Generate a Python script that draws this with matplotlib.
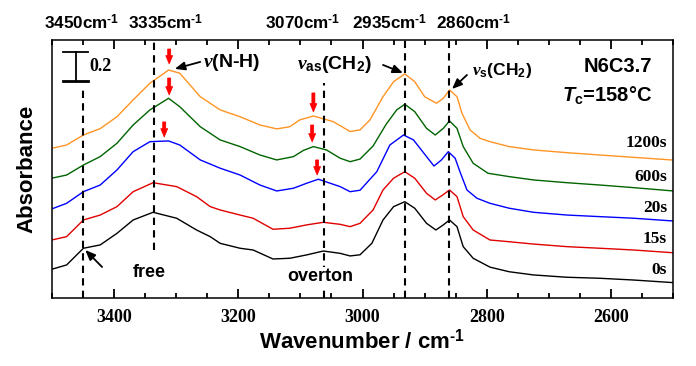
"""Time-resolved FTIR spectra of N6C3.7 during isothermal crystallization (Tc = 158 C)."""
import matplotlib
matplotlib.use("Agg")
import matplotlib.pyplot as plt
from matplotlib.ticker import MultipleLocator

plt.rcParams["font.family"] = ["Liberation Sans", "DejaVu Sans"]
plt.rcParams["font.weight"] = "bold"
plt.rcParams["mathtext.fontset"] = "custom"
plt.rcParams["mathtext.rm"] = "Liberation Sans:bold"
plt.rcParams["mathtext.it"] = "Liberation Serif:italic"
plt.rcParams["mathtext.sf"] = "Liberation Sans:bold:italic"

# spectra (already vertically offset as plotted)
wn_0s = [3500, 3476, 3449, 3422, 3395, 3369, 3337, 3299, 3267, 3245, 3229, 3197, 3176, 3144, 3117,
         3090, 3063, 3036, 3020, 3004, 2985, 2967, 2950, 2932, 2916, 2897, 2882, 2870, 2860, 2848,
         2838, 2822, 2795, 2764, 2725, 2671, 2618, 2564, 2500]
abs_0s = [0.200, 0.230, 0.345, 0.368, 0.448, 0.540, 0.593, 0.552, 0.471, 0.425, 0.379, 0.345, 0.333,
          0.271, 0.276, 0.299, 0.326, 0.310, 0.292, 0.300, 0.379, 0.540, 0.632, 0.666, 0.621, 0.517,
          0.471, 0.506, 0.540, 0.494, 0.356, 0.276, 0.215, 0.183, 0.161, 0.145, 0.138, 0.126, 0.108]

wn_15s = [3500, 3476, 3449, 3422, 3395, 3369, 3337, 3299, 3267, 3245, 3229, 3197, 3176, 3144, 3117,
          3090, 3063, 3036, 3020, 3004, 2983, 2967, 2950, 2932, 2916, 2897, 2883, 2871, 2860, 2848,
          2838, 2822, 2795, 2764, 2725, 2671, 2618, 2564, 2500]
abs_15s = [0.402, 0.425, 0.540, 0.574, 0.632, 0.735, 0.797, 0.770, 0.701, 0.632, 0.609, 0.574, 0.552,
           0.476, 0.483, 0.506, 0.524, 0.510, 0.494, 0.517, 0.609, 0.747, 0.828, 0.873, 0.828, 0.724,
           0.678, 0.712, 0.747, 0.701, 0.563, 0.471, 0.402, 0.390, 0.374, 0.356, 0.345, 0.333, 0.314]

wn_20s = [3500, 3476, 3449, 3422, 3395, 3369, 3342, 3312, 3294, 3261, 3229, 3197, 3165, 3138, 3111,
          3090, 3071, 3036, 3020, 3004, 2977, 2956, 2934, 2918, 2899, 2885, 2873, 2862, 2851, 2843,
          2832, 2816, 2795, 2764, 2725, 2671, 2618, 2564, 2500]
abs_20s = [0.616, 0.655, 0.735, 0.781, 0.885, 1.011, 1.080, 1.085, 1.057, 0.954, 0.897, 0.850, 0.781,
           0.740, 0.759, 0.793, 0.821, 0.770, 0.735, 0.745, 0.873, 1.057, 1.126, 1.092, 0.988, 0.912,
           0.954, 1.011, 0.966, 0.870, 0.747, 0.690, 0.655, 0.621, 0.593, 0.574, 0.563, 0.552, 0.533]

wn_600s = [3500, 3476, 3449, 3422, 3395, 3369, 3342, 3312, 3294, 3261, 3229, 3197, 3165, 3138, 3111,
           3095, 3079, 3058, 3036, 3020, 3004, 2983, 2962, 2945, 2932, 2916, 2897, 2883, 2870, 2860,
           2848, 2838, 2822, 2798, 2764, 2725, 2671, 2618, 2564, 2500]
abs_600s = [0.828, 0.850, 0.919, 0.977, 1.069, 1.195, 1.299, 1.379, 1.321, 1.183, 1.092, 1.046, 0.988,
            0.954, 0.977, 1.020, 1.046, 1.023, 0.966, 0.942, 0.960, 1.050, 1.200, 1.299, 1.338, 1.287,
            1.172, 1.126, 1.172, 1.223, 1.172, 1.046, 0.931, 0.862, 0.839, 0.816, 0.797, 0.781, 0.763,
            0.740]

wn_1200s = [3500, 3476, 3449, 3422, 3395, 3369, 3342, 3312, 3294, 3261, 3229, 3197, 3165, 3138, 3117,
            3101, 3079, 3047, 3020, 3004, 2988, 2967, 2950, 2932, 2916, 2900, 2881, 2870, 2860, 2848,
            2840, 2827, 2811, 2795, 2764, 2725, 2671, 2618, 2564, 2500]
abs_1200s = [1.034, 1.057, 1.126, 1.170, 1.252, 1.368, 1.483, 1.574, 1.552, 1.390, 1.299, 1.252,
             1.195, 1.168, 1.183, 1.230, 1.257, 1.218, 1.150, 1.161, 1.230, 1.390, 1.494, 1.547, 1.494,
             1.390, 1.345, 1.379, 1.437, 1.390, 1.276, 1.161, 1.103, 1.080, 1.046, 1.023, 1.004, 0.988,
             0.972, 0.953]

times = ["0s", "15s", "20s", "600s", "1200s"]
colors = ["black", "#e00000", "#0000ff", "#006400", "#ff9424"]
label_y = [0.195, 0.409, 0.623, 0.837, 1.071]

# marked band positions (cm-1)
band_labels = ["3450", "3335", "3070", "2935", "2860"]
band_label_x = [3452, 3316, 3097, 2956, 2821]
band_lines_x = [3449, 3335, 3062, 2932, 2861]
band_lines_ymin = [0.0, 0.333, 0.0, 0.0, 0.0]
band_lines_ymax = [1.436, 1.79, 1.485, 1.79, 1.79]

# red arrows on the N-H and overtone peaks: (x, top, tip)
red_arrows = [(3311, 1.719, 1.616), (3311, 1.519, 1.402), (3319, 1.216, 1.112),
              (3079, 1.416, 1.285), (3081, 1.195, 1.078), (3073, 0.954, 0.850)]

SUP = "$^{\\rm \u20101}$"  # superscript "-1" with a real hyphen

fig = plt.figure(figsize=(6.96, 3.66), dpi=100)
ax = fig.add_axes([0.0743, 0.185, 0.8931, 0.7057])

spectra = [(wn_0s, abs_0s), (wn_15s, abs_15s), (wn_20s, abs_20s), (wn_600s, abs_600s),
           (wn_1200s, abs_1200s)]
for (wn, a), c in zip(spectra, colors):
    ax.plot(wn, a, color=c, lw=1.0)

for t, y in zip(times, label_y):
    ax.text(2510, y, t, ha="right", va="center", fontsize=12.5, family="Liberation Serif",
            fontweight="bold")

for x, y0, y1 in zip(band_lines_x, band_lines_ymin, band_lines_ymax):
    ax.plot([x, x], [y0, y1], color="black", lw=1.5, ls=(0, (3.5, 2.5)), clip_on=False, zorder=3)

for lab, x in zip(band_labels, band_label_x):
    ax.text(x, 1.90, lab + "cm" + SUP, ha="center", va="center", fontsize=12.3,
            fontweight="bold", clip_on=False)

for x, top, tip in red_arrows:
    ax.annotate("", xy=(x, tip), xytext=(x, top),
                arrowprops=dict(arrowstyle="simple,head_width=0.5,head_length=0.6,tail_width=0.22",
                                color="red", lw=0.5, shrinkA=0, shrinkB=0))

# black arrows to the assigned bands
black_arrows = [((3261, 1.630), (3302, 1.582)), ((2967, 1.609), (2935, 1.554)),
                ((2832, 1.540), (2856, 1.443)), ((3419, 0.216), (3446, 0.333))]
for tail, tip in black_arrows:
    ax.annotate("", xy=tip, xytext=tail,
                arrowprops=dict(arrowstyle="-|>,head_width=0.25,head_length=0.6", color="black",
                                lw=1.3, shrinkA=0, shrinkB=0))

ax.text(3257, 1.623, r"$\nu$(N-H)", ha="left", va="center", fontsize=14, fontweight="bold")
ax.text(3105, 1.609, r"$\nu_{\rm as}$(CH$_{\rm 2}$)", ha="left", va="center", fontsize=14,
        fontweight="bold")
ax.text(2824, 1.574, r"$\nu_{\rm s}$(CH$_{\rm 2}$)", ha="left", va="center", fontsize=12.5,
        fontweight="bold")
ax.text(2534, 1.595, "N6C3.7", ha="right", va="center", fontsize=14.5, fontweight="bold")
ax.text(2534, 1.402, r"$\mathsf{T}_{\rm c}$=158°C", ha="right", va="center", fontsize=14.5,
        fontweight="bold")
ax.text(3343, 0.181, "free", ha="center", va="center", fontsize=13, fontweight="bold")
ax.text(3068, 0.147, "overton", ha="center", va="center", fontsize=13, fontweight="bold",
        bbox=dict(facecolor="white", edgecolor="none", pad=1.0), zorder=4)

# 0.2 absorbance scale bar
ax.plot([3461, 3461], [1.501, 1.701], color="black", lw=1.3)
ax.plot([3482, 3442], [1.701, 1.701], color="black", lw=1.3)
ax.plot([3482, 3442], [1.501, 1.501], color="black", lw=2.0)
ax.text(3440, 1.601, "0.2", ha="left", va="center", fontsize=13, family="Liberation Serif",
        fontweight="bold")

ax.set_xlim(3500, 2500)
ax.set_ylim(0, 1.781)
ax.xaxis.set_major_locator(MultipleLocator(200))
ax.xaxis.set_minor_locator(MultipleLocator(50))
ax.set_yticks([])
ax.tick_params(axis="x", which="both", direction="in", top=True, bottom=True, width=1.3)
ax.tick_params(axis="x", which="major", length=6.5, pad=8)
ax.tick_params(axis="x", which="minor", length=3.6)
for lab in ax.get_xticklabels():
    lab.set_family("Liberation Serif")
    lab.set_fontweight("bold")
    lab.set_fontsize(13)
for sp in ax.spines.values():
    sp.set_linewidth(1.1)

ax.set_xlabel("Wavenumber / cm" + SUP, fontsize=16, fontweight="bold", labelpad=2)
ax.set_ylabel("Absorbance", fontsize=16, fontweight="bold", labelpad=10)

fig.savefig("out.png", dpi=100)
